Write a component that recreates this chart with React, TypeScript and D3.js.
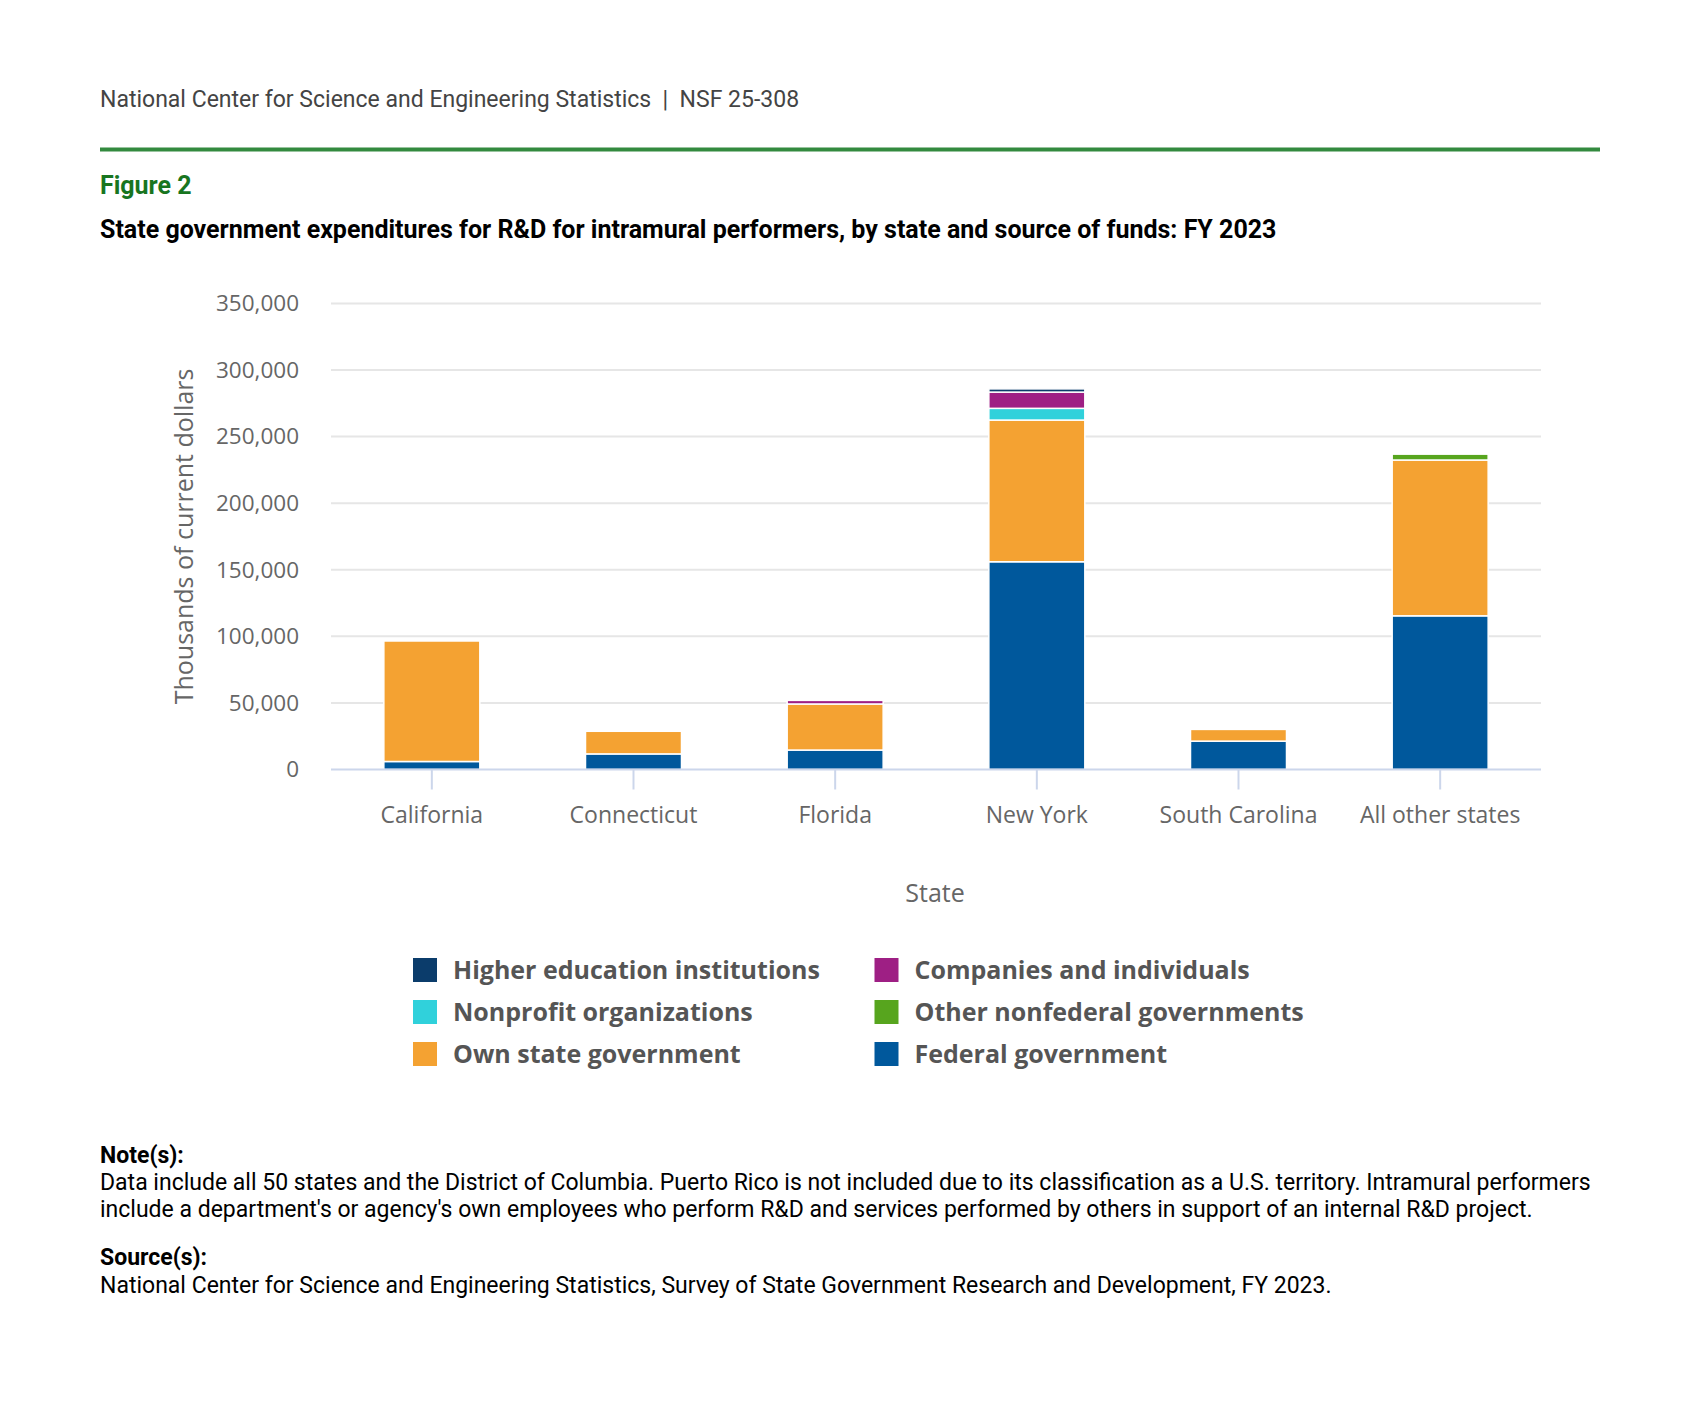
import React from "react";
import * as d3 from "d3";

const states = ["California", "Connecticut", "Florida", "New York", "South Carolina", "All other states"];

// thousands of current dollars
const federal = [6000, 11700, 14600, 156000, 21300, 115400];
const ownState = [90500, 17000, 34600, 106400, 8800, 117000];
const otherNonfederal = [0, 0, 0, 0, 0, 4400];
const nonprofit = [0, 0, 0, 8800, 0, 0];
const companies = [0, 0, 2700, 12200, 0, 0];
const higherEd = [0, 0, 0, 2400, 0, 0];

const yTicks = [0, 50000, 100000, 150000, 200000, 250000, 300000, 350000];

const series = [
  { key: "federal", name: "Federal government", values: federal, color: "#00589c" },
  { key: "own", name: "Own state government", values: ownState, color: "#f4a232" },
  { key: "othernf", name: "Other nonfederal governments", values: otherNonfederal, color: "#57a51e" },
  { key: "nonprofit", name: "Nonprofit organizations", values: nonprofit, color: "#30d1db" },
  { key: "companies", name: "Companies and individuals", values: companies, color: "#9e1f84" },
  { key: "highered", name: "Higher education institutions", values: higherEd, color: "#0b3c6b" },
];

// legend reads row by row, two columns
const legendOrder = ["highered", "companies", "nonprofit", "othernf", "own", "federal"];

const W = 1699;
const H = 1407;
const plot = { left: 331, right: 1541, top: 303.4, bottom: 769.5 };

const noteLines = [
  "Data include all 50 states and the District of Columbia. Puerto Rico is not included due to its classification as a U.S. territory. Intramural performers",
  "include a department's or agency's own employees who perform R&D and services performed by others in support of an internal R&D project.",
];
const sourceLine =
  "National Center for Science and Engineering Statistics, Survey of State Government Research and Development, FY 2023.";

export default function App() {
  const x = d3
    .scaleBand()
    .domain(states)
    .range([plot.left, plot.right])
    .paddingInner(0.524)
    .paddingOuter(0.262);

  const y = d3.scaleLinear().domain([0, 350000]).range([plot.bottom, plot.top]);

  const rows = states.map((s, i) => {
    const r: Record<string, number | string> = { state: s };
    series.forEach((se) => (r[se.key] = se.values[i]));
    return r;
  });
  const stacked = d3.stack<any>().keys(series.map((s) => s.key))(rows);

  const fmt = d3.format(",");
  const sans = "'Open Sans', sans-serif";
  const roboto = "Roboto, sans-serif";

  return (
    <div style={{ position: "absolute", left: 0, top: 0 }}>
      <svg width={W} height={H} style={{ display: "block", background: "#fff" }}>
        <text x={100} y={107} fontFamily={roboto} fontSize={23} fill="#444">
          {"National Center for Science and Engineering Statistics\u00a0\u00a0|\u00a0\u00a0NSF 25-308"}
        </text>
        <line x1={100} x2={1600} y1={149.5} y2={149.5} stroke="#338a3f" strokeWidth={4} />
        <text x={100} y={194} fontFamily={roboto} fontSize={25} fontWeight="bold" fill="#18751f">
          Figure 2
        </text>
        <text x={100} y={238} fontFamily={roboto} fontSize={25} fontWeight="bold" fill="#000">
          State government expenditures for R&amp;D for intramural performers, by state and source of funds: FY 2023
        </text>

        {/* grid + y labels */}
        {yTicks.map((t) => (
          <g key={t}>
            {t > 0 && (
              <line x1={plot.left} x2={plot.right} y1={y(t)} y2={y(t)} stroke="#e6e6e6" strokeWidth={2} />
            )}
            <text
              x={299}
              y={y(t)}
              dy="0.35em"
              textAnchor="end"
              fontFamily={sans}
              fontSize={22.5}
              fill="#666"
            >
              {fmt(t)}
            </text>
          </g>
        ))}

        {/* bars */}
        {stacked.map((layer, li) => (
          <g key={layer.key} fill={series[li].color}>
            {layer.map((d, i) =>
              d[1] - d[0] > 0 ? (
                <rect
                  key={i}
                  x={x(states[i])}
                  width={x.bandwidth()}
                  y={y(d[1])}
                  height={y(d[0]) - y(d[1])}
                  stroke="#fff"
                  strokeWidth={1.5}
                />
              ) : null
            )}
          </g>
        ))}

        {/* x axis */}
        <line x1={plot.left} x2={plot.right} y1={plot.bottom} y2={plot.bottom} stroke="#ccd6eb" strokeWidth={2} />
        {states.map((s) => {
          const cx = (x(s) || 0) + x.bandwidth() / 2;
          return (
            <g key={s}>
              <line x1={cx} x2={cx} y1={plot.bottom} y2={plot.bottom + 20} stroke="#ccd6eb" strokeWidth={2} />
              <text x={cx} y={815} dy="0.35em" textAnchor="middle" fontFamily={sans} fontSize={23} fill="#666">
                {s}
              </text>
            </g>
          );
        })}

        <text x={935} y={893} dy="0.35em" textAnchor="middle" fontFamily={sans} fontSize={25} fill="#666">
          State
        </text>
        <text
          transform={`translate(184, ${(plot.top + plot.bottom) / 2}) rotate(-90)`}
          dy="0.35em"
          textAnchor="middle"
          fontFamily={sans}
          fontSize={25}
          fill="#666"
        >
          Thousands of current dollars
        </text>

        {/* legend */}
        {legendOrder.map((k, i) => {
          const se = series.find((s) => s.key === k)!;
          const col = i % 2;
          const row = Math.floor(i / 2);
          const lx = col === 0 ? 413 : 874.5;
          const ly = 970 + row * 42;
          return (
            <g key={k}>
              <rect x={lx} y={ly - 12} width={24} height={24} fill={se.color} />
              <text
                x={lx + 40}
                y={ly}
                dy="0.35em"
                fontFamily={sans}
                fontSize={25}
                fontWeight="bold"
                fill="#555"
              >
                {se.name}
              </text>
            </g>
          );
        })}

        {/* notes */}
        <text x={100} y={1163} fontFamily={roboto} fontSize={23} fontWeight="bold" fill="#000">
          Note(s):
        </text>
        {noteLines.map((l, i) => (
          <text key={i} x={100} y={1190 + i * 27} fontFamily={roboto} fontSize={23} fill="#000">
            {l}
          </text>
        ))}
        <text x={100} y={1265} fontFamily={roboto} fontSize={23} fontWeight="bold" fill="#000">
          Source(s):
        </text>
        <text x={100} y={1293} fontFamily={roboto} fontSize={23} fill="#000">
          {sourceLine}
        </text>
      </svg>
    </div>
  );
}
